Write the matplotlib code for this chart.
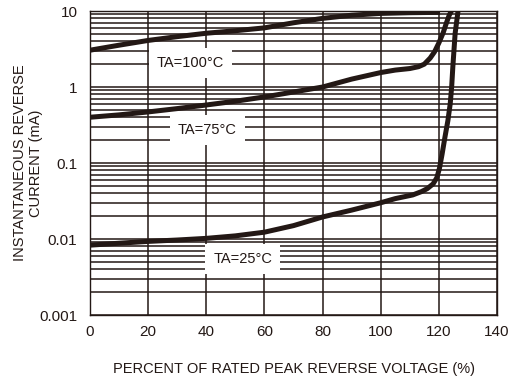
import matplotlib
matplotlib.use("Agg")
import matplotlib.pyplot as plt
from matplotlib.ticker import LogLocator, NullFormatter

plt.rcParams['font.family'] = ['Liberation Sans', 'DejaVu Sans']

# curve data
x_100 = [0, 10, 20, 30, 40, 50, 60, 70, 80, 90, 100, 110, 120.4]
y_100 = [3.05, 3.55, 4.1, 4.6, 5.1, 5.5, 6.0, 7.0, 8.0, 8.8, 9.3, 9.5, 9.6]

x_75 = [0, 10, 20, 30, 40, 50, 60, 70, 80, 90, 100, 105, 110, 113, 115, 117,
        118.5, 120, 121.5, 122.5, 123.5, 124.3]
y_75 = [0.40, 0.43, 0.47, 0.52, 0.58, 0.65, 0.74, 0.86, 1.0, 1.27, 1.55, 1.67,
        1.75, 1.85, 2.0, 2.4, 2.9, 3.8, 5.2, 6.8, 8.7, 10]

x_25 = [0, 10, 20, 30, 40, 50, 60, 70, 80, 90, 100, 105, 111, 114, 116, 118,
        119.3, 120.2, 121.1, 122.1, 123.1, 123.9, 124.4, 124.8, 125.6, 126.6]
y_25 = [0.0083, 0.0088, 0.0093, 0.0097, 0.0102, 0.011, 0.0123, 0.015, 0.0195,
        0.024, 0.030, 0.034, 0.038, 0.042, 0.046, 0.053, 0.064, 0.085, 0.13,
        0.22, 0.36, 0.6, 1.0, 1.83, 5.1, 10]

labels = ['TA=100°C', 'TA=75°C', 'TA=25°C']
label_x = [34.5, 40.3, 52.6]
label_y = [2.07, 0.27, 0.0055]

x_ticks = [0, 20, 40, 60, 80, 100, 120, 140]
y_ticks = [0.001, 0.01, 0.1, 1, 10]
y_ticklabels = ['0.001', '0.01', '0.1', '1', '10']

ink = '#231815'

fig = plt.figure(figsize=(5.16, 3.81), dpi=100)
ax = fig.add_axes([0.1744, 0.1732, 0.7888, 0.7979])

for xs, ys in [(x_100, y_100), (x_75, y_75), (x_25, y_25)]:
    ax.plot(xs, ys, color=ink, lw=3.6, solid_capstyle='butt',
            solid_joinstyle='round', zorder=3)

ax.set_yscale('log')
ax.set_xlim(0, 140)
ax.set_ylim(0.001, 10)
ax.set_xticks(x_ticks)
ax.set_yticks(y_ticks)
ax.set_yticklabels(y_ticklabels)
ax.yaxis.set_minor_locator(LogLocator(base=10, subs=range(2, 10)))
ax.yaxis.set_minor_formatter(NullFormatter())

ax.grid(True, which='major', axis='both', color=ink, lw=1.1)
ax.grid(True, which='minor', axis='y', color=ink, lw=1.1)
ax.tick_params(which='both', length=0, labelsize=11, colors=ink)
ax.tick_params(axis='x', pad=7.5)
ax.tick_params(axis='y', pad=9)
for s in ax.spines.values():
    s.set_color(ink)
    s.set_linewidth(1.0)

for t, lx, ly in zip(labels, label_x, label_y):
    ax.text(lx, ly, t, ha='center', va='center', fontsize=10.5, color=ink,
            zorder=4, bbox=dict(boxstyle='square,pad=0.55', fc='white', ec='none'))

ax.set_xlabel('PERCENT OF RATED PEAK REVERSE VOLTAGE (%)', fontsize=10.5,
              color=ink)
ax.xaxis.set_label_coords(0.5, -0.155)
ax.set_ylabel('INSTANTANEOUS REVERSE\nCURRENT (mA)', fontsize=10.5,
              color=ink, linespacing=1.2)
ax.yaxis.set_label_coords(-0.115, 0.5)

fig.savefig('out.png', dpi=100)
